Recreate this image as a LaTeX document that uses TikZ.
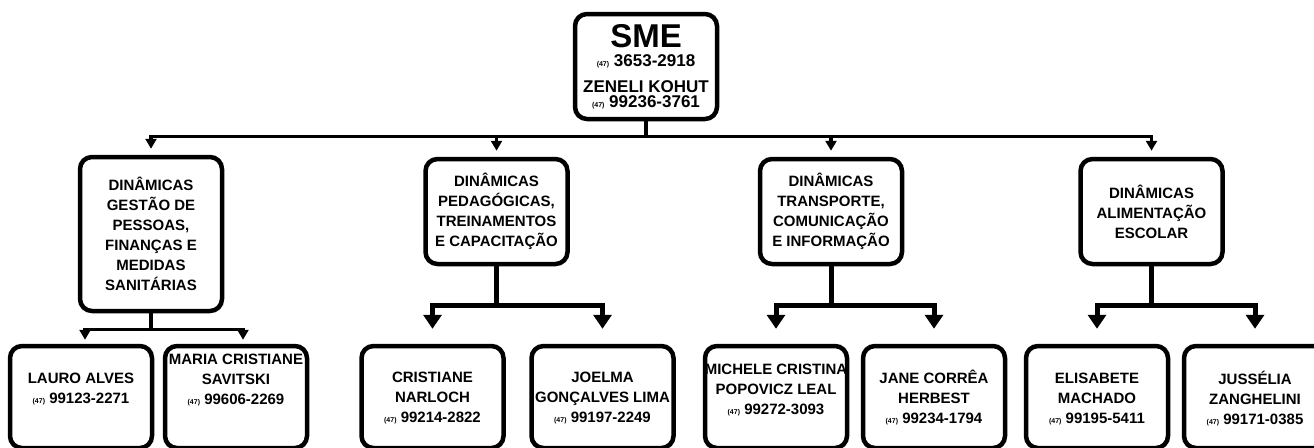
\documentclass[tikz,border=0pt]{standalone}
\usepackage{fontspec}
\setmainfont{Liberation Sans}
\usetikzlibrary{arrows.meta}
\newcommand{\areacode}{{\fontsize{7}{7}\selectfont(47)}}

\begin{document}
\begin{tikzpicture}[x=1pt, y=-1pt,
    box/.style={draw=black, line width=4.5pt, rounded corners=12pt, minimum width=142pt},
    topbox/.style={box, minimum height=105pt, align=center, font=\bfseries\fontsize{17}{14}\selectfont},
    deptbox/.style={box, minimum height=105pt, align=center, font=\bfseries\fontsize{15}{20}\selectfont},
    personbox/.style={box, minimum height=102pt},
    persontext/.style={align=center, inner sep=0pt, font=\bfseries\fontsize{15}{20}\selectfont},
    bus/.style={line width=3.5pt, -{Triangle[width=11pt,length=10pt]}, shorten >=6pt},
    smallfork/.style={line width=3.5pt, -{Triangle[width=11pt,length=10pt]}, shorten >=4pt},
    fork/.style={line width=5pt, -{Triangle[width=18pt,length=14pt]}, shorten >=15pt}]
    \useasboundingbox (0,0) rectangle (1314,447);

    \node[topbox] (sme) at (646,66.5) {{\fontsize{33}{14}\selectfont SME}\\[5pt]\areacode{} 3653-2918\\[12pt]ZENELI KOHUT\\[1pt]\areacode{} 99236-3761};

    \node[deptbox, minimum height=154pt] (pessoas) at (151,234) {DINÂMICAS\\GESTÃO DE\\PESSOAS,\\FINANÇAS E\\MEDIDAS\\SANITÁRIAS};
    \node[deptbox] (pedagogicas) at (496.5,211.5) {DINÂMICAS\\PEDAGÓGICAS,\\TREINAMENTOS\\E CAPACITAÇÃO};
    \node[deptbox] (transporte) at (831,211.5) {DINÂMICAS\\TRANSPORTE,\\COMUNICAÇÃO\\E INFORMAÇÃO};
    \node[deptbox] (alimentacao) at (1151.5,211.5) {DINÂMICAS\\ALIMENTAÇÃO\\ESCOLAR};

    \node[personbox] (lauro) at (81,397) {};
    \node[personbox] (maria) at (236,397) {};
    \node[personbox] (cristiane) at (432.5,397) {};
    \node[personbox] (joelma) at (602.5,397) {};
    \node[personbox] (michele) at (776,397) {};
    \node[personbox] (jane) at (934,397) {};
    \node[personbox] (elisabete) at (1097,397) {};
    \node[personbox] (jusselia) at (1255,397) {};

    \node[persontext] (lauro-t) at (81,389) {LAURO ALVES\\\areacode{} 99123-2271};
    \node[persontext] (maria-t) at (236,380) {MARIA CRISTIANE\\SAVITSKI\\\areacode{} 99606-2269};
    \node[persontext] (cristiane-t) at (432.5,398) {CRISTIANE\\NARLOCH\\\areacode{} 99214-2822};
    \node[persontext] (joelma-t) at (602.5,398) {JOELMA\\GONÇALVES LIMA\\\areacode{} 99197-2249};
    \node[persontext] (michele-t) at (776,390) {MICHELE CRISTINA\\POPOVICZ LEAL\\\areacode{} 99272-3093};
    \node[persontext] (jane-t) at (934,398) {JANE CORRÊA\\HERBEST\\\areacode{} 99234-1794};
    \node[persontext] (elisabete-t) at (1097,399) {ELISABETE\\MACHADO\\\areacode{} 99195-5411};
    \node[persontext] (jusselia-t) at (1255,399) {JUSSÉLIA\\ZANGHELINI\\\areacode{} 99171-0385};

    % from SME to the four areas
    \draw[bus] (sme.south) -- ++(0,15) -| (pessoas.north);
    \draw[bus] (sme.south) -- ++(0,15) -| (pedagogicas.north);
    \draw[bus] (sme.south) -- ++(0,15) -| (transporte.north);
    \draw[bus] (sme.south) -- ++(0,15) -| (alimentacao.north);

    % from each area to its people
    \draw[smallfork] (pessoas.south) -- ++(0,16) -| ([xshift=4pt]lauro.north);
    \draw[smallfork] (pessoas.south) -- ++(0,16) -| ([xshift=7pt]maria.north);

    \draw[fork] (pedagogicas.south) -- ++(0,39) -| (cristiane.north);
    \draw[fork] (pedagogicas.south) -- ++(0,39) -| (joelma.north);

    \draw[fork] (transporte.south) -- ++(0,39) -| (michele.north);
    \draw[fork] (transporte.south) -- ++(0,39) -| (jane.north);

    \draw[fork] (alimentacao.south) -- ++(0,39) -| (elisabete.north);
    \draw[fork] (alimentacao.south) -- ++(0,39) -| (jusselia.north);
\end{tikzpicture}
\end{document}
